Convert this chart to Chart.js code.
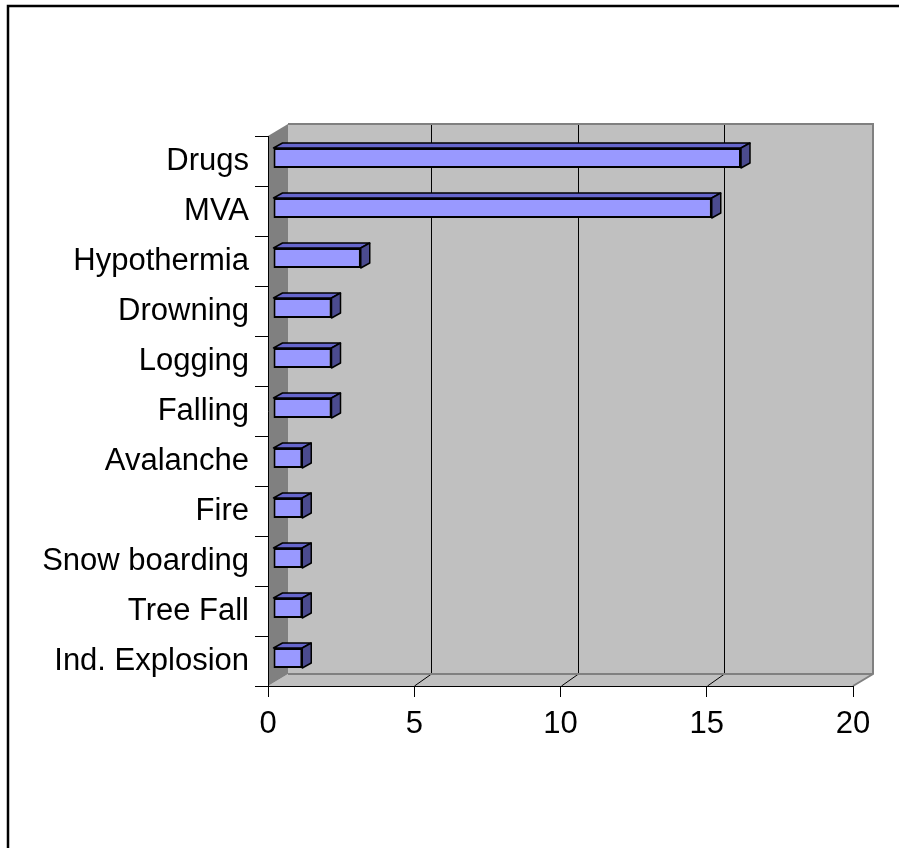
<!DOCTYPE html>
<html>
<head>
<meta charset="utf-8">
<script src="https://cdn.jsdelivr.net/npm/chart.js@4.4.0/dist/chart.umd.min.js"></script>
<style>
  body { margin: 0; background: #fff; }
</style>
</head>
<body>
<canvas id="chart" width="899" height="848"></canvas>
<script>
// Données du graphique
const categories = ["Drugs", "MVA", "Hypothermia", "Drowning", "Logging", "Falling",
  "Avalanche", "Fire", "Snow boarding", "Tree Fall", "Ind. Explosion"];
const deaths = [16, 15, 3, 2, 2, 2, 1, 1, 1, 1, 1];
const xTicks = [0, 5, 10, 15, 20];

const DX = 20, DY = -12; // profondeur du mur du fond
const GX = 17;           // décalage des lignes de grille au fond
const BX = 5, BY = -3;   // décalage de la face avant des barres
const FX = 9, FY = -5;   // épaisseur 3D des barres
const FONT = "'Liberation Sans', Arial, sans-serif";

function poly(ctx, pts, fill) {
  ctx.beginPath();
  ctx.moveTo(pts[0][0], pts[0][1]);
  pts.slice(1).forEach((p) => ctx.lineTo(p[0], p[1]));
  ctx.closePath();
  ctx.fillStyle = fill;
  ctx.fill();
}

const wall3d = {
  id: "wall3d",
  beforeDraw(chart) {
    const ctx = chart.ctx;
    const a = chart.chartArea;
    const xs = chart.scales.x;
    ctx.save();
    ctx.fillStyle = "#fff";
    ctx.fillRect(0, 0, chart.width, chart.height);
    // cadre extérieur
    ctx.strokeStyle = "#000";
    ctx.lineWidth = 2.5;
    ctx.strokeRect(8, 6, chart.width + 20, chart.height + 20);
    // mur du fond
    ctx.fillStyle = "#c0c0c0";
    ctx.fillRect(a.left + DX, a.top + DY, a.right - a.left, a.bottom - a.top);
    // sol
    poly(ctx, [[a.left, a.bottom], [a.right, a.bottom], [a.right + DX, a.bottom + DY], [a.left + DX, a.bottom + DY]], "#c0c0c0");
    // mur de gauche
    poly(ctx, [[a.left, a.top], [a.left + DX, a.top + DY], [a.left + DX, a.bottom + DY], [a.left, a.bottom]], "#808080");
    // grille
    ctx.strokeStyle = "#000";
    ctx.lineWidth = 1;
    xTicks.slice(1, -1).forEach((v) => {
      const x = Math.round(xs.getPixelForValue(v)) + 0.5;
      ctx.beginPath();
      ctx.moveTo(x + GX, a.top + DY);
      ctx.lineTo(x + GX, a.bottom + DY);
      ctx.lineTo(x, a.bottom);
      ctx.stroke();
    });
    // bords gris
    ctx.strokeStyle = "#808080";
    ctx.lineWidth = 2;
    ctx.beginPath();
    ctx.moveTo(a.left + DX, a.top + DY);
    ctx.lineTo(a.right + DX, a.top + DY);
    ctx.lineTo(a.right + DX, a.bottom + DY);
    ctx.lineTo(a.right, a.bottom);
    ctx.moveTo(a.left + DX, a.bottom + DY);
    ctx.lineTo(a.right + DX, a.bottom + DY);
    ctx.stroke();
    ctx.restore();
  },
  beforeDatasetsDraw(chart) {
    const ctx = chart.ctx;
    const meta = chart.getDatasetMeta(0);
    ctx.save();
    ctx.strokeStyle = "#000";
    ctx.lineWidth = 1.5;
    ctx.lineJoin = "round";
    meta.data.forEach((bar) => {
      const { x, y, base, height } = bar.getProps(["x", "y", "base", "height"], true);
      const top = y - height / 2 + BY, bot = y + height / 2 + BY;
      const l = base + BX, r = x + BX;
      poly(ctx, [[l, top], [r, top], [r + FX, top + FY], [l + FX, top + FY]], "#6666cc");
      ctx.stroke();
      poly(ctx, [[r, top], [r + FX, top + FY], [r + FX, bot + FY], [r, bot]], "#4b4b8f");
      ctx.stroke();
    });
    ctx.restore();
    // face avant décalée
    ctx.save();
    ctx.translate(BX, BY);
  },
  afterDatasetsDraw(chart) {
    chart.ctx.restore();
  },
};

const data = {
  labels: categories,
  datasets: [
    {
      data: deaths,
      backgroundColor: "#9999ff",
      borderColor: "#000",
      borderWidth: 2,
      borderSkipped: false,
      barPercentage: 0.4,
      categoryPercentage: 1,
      clip: false,
    },
  ],
};

const options = {
  indexAxis: "y",
  responsive: false,
  animation: false,
  layout: { padding: { top: 136, right: 46, left: 0, bottom: 0 } },
  plugins: {
    legend: { display: false },
    tooltip: { enabled: false },
  },
  scales: {
    x: {
      min: 0,
      max: 20,
      afterFit: (s) => { s.height = 162; },
      grid: { drawOnChartArea: false, tickLength: 11, color: "#000" },
      border: { color: "#000", width: 1 },
      ticks: {
        stepSize: 5,
        color: "#000",
        padding: 9,
        font: { family: FONT, size: 31 },
      },
    },
    y: {
      afterFit: (s) => { s.width = 268; },
      grid: { drawOnChartArea: false, tickLength: 13, color: "#000", offset: true },
      border: { color: "#000", width: 1 },
      ticks: {
        autoSkip: false,
        color: "#000",
        padding: 6,
        font: { family: FONT, size: 31 },
      },
    },
  },
};

// Création du graphique
const ctx = document.getElementById("chart").getContext("2d");
const barChart = new Chart(ctx, {
  type: "bar",
  data: data,
  options: options,
  plugins: [wall3d],
});
</script>
</body>
</html>
